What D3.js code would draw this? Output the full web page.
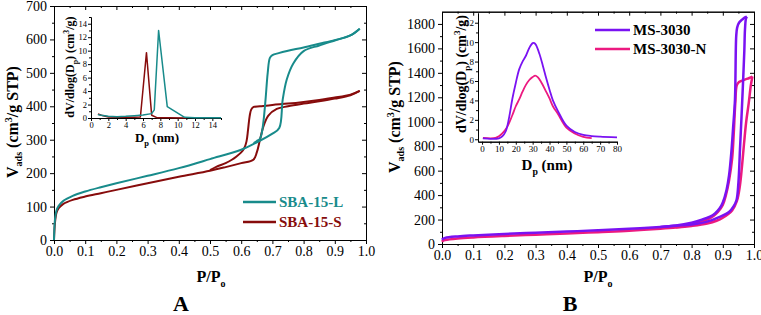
<!DOCTYPE html>
<html>
<head>
<meta charset="utf-8">
<script src="https://cdnjs.cloudflare.com/ajax/libs/d3/7.8.5/d3.min.js"></script>
<style>
  body { margin: 0; background: #fff; }
  svg { display: block; font-family: "Liberation Serif", "Times New Roman", serif; }
</style>
</head>
<body>
<script>
// ---------- data ----------
// Panel A: N2 isotherms, [P/Po, V]
const sbaL_ads = [[0,0],[0.003,60],[0.008,88],[0.015,102],[0.03,117],[0.06,132],[0.1,145],[0.15,158],[0.2,170],[0.3,192],[0.4,215],[0.5,242],[0.6,270],[0.65,292],[0.7,318],[0.722,335],[0.733,420],[0.746,480],[0.767,528],[0.8,565],[0.85,582],[0.9,597],[0.95,612],[0.98,632]];
const sbaL_des = [[0.98,632],[0.95,612],[0.9,598],[0.85,587],[0.8,576],[0.75,566],[0.72,559],[0.7,553],[0.692,545],[0.685,500],[0.678,420],[0.672,360],[0.666,320],[0.66,303],[0.65,296],[0.64,290]];
const sbaS_ads = [[0,0],[0.003,50],[0.008,82],[0.015,95],[0.03,108],[0.06,120],[0.1,130],[0.15,140],[0.2,150],[0.3,170],[0.4,189],[0.5,207],[0.55,218],[0.6,230],[0.639,240],[0.65,262],[0.66,299],[0.671,339],[0.687,372],[0.714,392],[0.75,400],[0.8,408],[0.85,415],[0.9,423],[0.95,433],[0.98,446]];
const sbaS_des = [[0.98,446],[0.95,435],[0.9,426],[0.85,419],[0.8,413],[0.75,408],[0.7,404],[0.66,400],[0.64,398],[0.632,390],[0.627,370],[0.622,330],[0.617,295],[0.61,275],[0.6,262],[0.585,250],[0.57,240],[0.55,230],[0.52,219],[0.5,209]];
// Panel A inset: pore size distribution, [Dp nm, dV/dlogDp]
const sbaL_psd = [[0.8,0.5],[1.2,0.4],[2,0.25],[3,0.2],[4,0.25],[5,0.35],[6,0.45],[7,0.65],[7.3,1.2],[7.8,13],[8.8,1.7],[10.8,0.1],[12,0.05],[15,0.05]];
const sbaS_psd = [[0.8,0.6],[1.2,0.4],[2,0.15],[3,0.1],[4,0.1],[5,0.1],[5.7,0.15],[6.4,9.7],[7,0.4],[7.6,0.05],[9,0.02],[11,0]];

// Panel B: N2 isotherms
const ms_ads = [[0,35],[0.003,42],[0.01,50],[0.05,62],[0.1,70],[0.2,82],[0.3,92],[0.4,102],[0.5,112],[0.6,124],[0.7,140],[0.75,150],[0.8,160],[0.85,183],[0.89,222],[0.92,262],[0.935,310],[0.944,360],[0.95,500],[0.955,770],[0.96,1040],[0.965,1330],[0.969,1580],[0.971,1750],[0.974,1840],[0.977,1860]];
const ms_des = [[0.977,1860],[0.97,1852],[0.962,1835],[0.952,1810],[0.946,1770],[0.943,1700],[0.939,1180],[0.933,950],[0.928,770],[0.92,560],[0.912,442],[0.9,340],[0.89,292],[0.875,250],[0.859,223],[0.83,196],[0.8,175],[0.75,152],[0.7,140]];
const msN_ads = [[0,18],[0.003,26],[0.01,32],[0.05,45],[0.1,54],[0.2,66],[0.3,76],[0.4,86],[0.5,97],[0.6,108],[0.7,124],[0.75,134],[0.8,148],[0.85,168],[0.88,190],[0.9,215],[0.93,275],[0.945,350],[0.955,480],[0.962,650],[0.968,820],[0.975,1000],[0.983,1150],[0.99,1300],[0.995,1370]];
const msN_des = [[0.995,1370],[0.985,1358],[0.97,1345],[0.96,1335],[0.952,1325],[0.945,1300],[0.94,1150],[0.935,900],[0.93,700],[0.92,520],[0.91,400],[0.9,320],[0.885,265],[0.87,230],[0.85,200],[0.8,160],[0.75,136]];
// Panel B inset
const ms_psd = [[0.5,0.1],[5,0.05],[10,0.1],[12,0.3],[14,0.8],[16,2.2],[18,4.2],[20,5.8],[22,7.2],[24,8.0],[26,8.6],[28,9.4],[30,9.9],[31,9.9],[32,9.7],[34,8.8],[36,7.6],[38,6.3],[40,5.1],[42,4.0],[45,2.9],[50,1.4],[55,0.75],[60,0.45],[65,0.33],[70,0.27],[80,0.2]];
const msN_psd = [[0.5,0.15],[5,0.1],[8,0.15],[10,0.3],[12,0.6],[15,1.3],[18,2.5],[20,3.4],[22,4.1],[24,4.9],[26,5.6],[28,6.1],[30,6.4],[31.5,6.55],[33,6.4],[35,5.9],[38,4.9],[40,4.2],[42,3.4],[45,2.6],[50,1.2],[55,0.6],[60,0.25],[65,0.12]];

// tick values
const pTicks = d3.range(0, 1.001, 0.1);
const pMinor = d3.range(0.05, 1, 0.1);
const vTicksA = d3.range(0, 701, 100);
const vTicksB = d3.range(0, 1801, 200);

const colors = { sbaL: "#188b8b", sbaS: "#870c0c", ms: "#7a12f2", msN: "#ec1a80" };

// ---------- svg ----------
const svg = d3.select("body").append("svg")
    .attr("width", 761)
    .attr("height", 315);

function styleAxis(g, size) {
    g.attr("font-family", "Liberation Serif").attr("font-size", size);
    g.selectAll("text").attr("fill", "#000");
    g.selectAll("line, path").attr("stroke", "#000");
}

// main frame with ticks: out on left/bottom, in on top/right
function drawFrame(x, y, yTicks, yMinor) {
    const [x0, x1] = x.range();
    const [y0, y1] = y.range();

    const bottom = svg.append("g").attr("transform", `translate(0,${y0})`)
        .call(d3.axisBottom(x).tickValues(pTicks).tickFormat(d3.format(".1f")).tickSize(4).tickPadding(2).tickSizeOuter(0));
    styleAxis(bottom, 14);
    svg.append("g").attr("transform", `translate(0,${y0})`)
        .call(d3.axisBottom(x).tickValues(pMinor).tickFormat("").tickSize(2).tickSizeOuter(0))
        .call(g => styleAxis(g, 14));

    const left = svg.append("g").attr("transform", `translate(${x0},0)`)
        .call(d3.axisLeft(y).tickValues(yTicks).tickFormat(d3.format("d")).tickSize(4).tickPadding(3).tickSizeOuter(0));
    styleAxis(left, 14);
    svg.append("g").attr("transform", `translate(${x0},0)`)
        .call(d3.axisLeft(y).tickValues(yMinor).tickFormat("").tickSize(2).tickSizeOuter(0))
        .call(g => styleAxis(g, 14));

    // mirrored top / right, ticks inward
    svg.append("g").attr("transform", `translate(0,${y1})`)
        .call(d3.axisBottom(x).tickValues(pTicks).tickFormat("").tickSize(4).tickSizeOuter(0))
        .call(g => styleAxis(g, 14));
    svg.append("g").attr("transform", `translate(0,${y1})`)
        .call(d3.axisBottom(x).tickValues(pMinor).tickFormat("").tickSize(2).tickSizeOuter(0))
        .call(g => styleAxis(g, 14));
    svg.append("g").attr("transform", `translate(${x1},0)`)
        .call(d3.axisLeft(y).tickValues(yTicks).tickFormat("").tickSize(4).tickSizeOuter(0))
        .call(g => styleAxis(g, 14));
    svg.append("g").attr("transform", `translate(${x1},0)`)
        .call(d3.axisLeft(y).tickValues(yMinor).tickFormat("").tickSize(2).tickSizeOuter(0))
        .call(g => styleAxis(g, 14));
}

function drawInsetAxes(x, y, xTicks, xMinor, yTicks, yMinor, fs) {
    const [x0] = x.range();
    const [y0] = y.range();
    const bx = svg.append("g").attr("transform", `translate(0,${y0})`)
        .call(d3.axisBottom(x).tickValues(xTicks).tickSize(3).tickPadding(1).tickSizeOuter(0));
    styleAxis(bx, fs);
    svg.append("g").attr("transform", `translate(0,${y0})`)
        .call(d3.axisBottom(x).tickValues(xMinor).tickFormat("").tickSize(2).tickSizeOuter(0))
        .call(g => styleAxis(g, fs));
    const ly = svg.append("g").attr("transform", `translate(${x0},0)`)
        .call(d3.axisLeft(y).tickValues(yTicks).tickSize(3).tickPadding(1).tickSizeOuter(0));
    styleAxis(ly, fs);
    svg.append("g").attr("transform", `translate(${x0},0)`)
        .call(d3.axisLeft(y).tickValues(yMinor).tickFormat("").tickSize(2).tickSizeOuter(0))
        .call(g => styleAxis(g, fs));
}

function drawCurve(data, x, y, color, width, curve) {
    const line = d3.line()
        .x(d => x(d[0]))
        .y(d => y(d[1]))
        .curve(curve || d3.curveCatmullRom.alpha(0.5));
    svg.append("path")
        .datum(data)
        .attr("d", line)
        .attr("fill", "none")
        .attr("stroke", color)
        .attr("stroke-width", width)
        .attr("stroke-linejoin", "round");
}

// y title like "V_ads (cm^3/g STP)" rotated
function vLabel(cx, cy) {
    const t = svg.append("text")
        .attr("transform", `translate(${cx},${cy}) rotate(-90)`)
        .attr("text-anchor", "middle")
        .attr("font-size", 16).attr("font-weight", "bold");
    t.append("tspan").text("V");
    t.append("tspan").attr("font-size", 10).attr("dy", 4).text("ads");
    t.append("tspan").attr("dy", -4).text(" (cm");
    t.append("tspan").attr("font-size", 10).attr("dy", -6).text("3");
    t.append("tspan").attr("dy", 6).text("/g STP)");
}

function pLabel(cx, cy) {
    const t = svg.append("text")
        .attr("x", cx).attr("y", cy)
        .attr("text-anchor", "middle")
        .attr("font-size", 16).attr("font-weight", "bold");
    t.append("tspan").text("P/P");
    t.append("tspan").attr("font-size", 10).attr("dy", 5).text("o");
}

function dpLabel(cx, cy, size) {
    const t = svg.append("text")
        .attr("x", cx).attr("y", cy)
        .attr("text-anchor", "middle")
        .attr("font-size", size).attr("font-weight", "bold");
    t.append("tspan").text("D");
    t.append("tspan").attr("font-size", size * 0.65).attr("dy", size * 0.3).text("p");
    t.append("tspan").attr("dy", -size * 0.3).text(" (nm)");
}

function psdLabel(cx, cy, size) {
    const t = svg.append("text")
        .attr("transform", `translate(${cx},${cy}) rotate(-90)`)
        .attr("text-anchor", "middle")
        .attr("font-size", size).attr("font-weight", "bold");
    t.append("tspan").text("dV/dlog(D");
    t.append("tspan").attr("font-size", size * 0.65).attr("dy", size * 0.3).text("p");
    t.append("tspan").attr("dy", -size * 0.3).text(") (cm");
    t.append("tspan").attr("font-size", size * 0.65).attr("dy", -size * 0.4).text("3");
    t.append("tspan").attr("dy", size * 0.4).text("/g)");
}

function legend(items, x0, y0, gap, len, textColorFromLine) {
    items.forEach((d, i) => {
        const yy = y0 + i * gap;
        svg.append("line")
            .attr("x1", x0).attr("x2", x0 + len)
            .attr("y1", yy).attr("y2", yy)
            .attr("stroke", d.color).attr("stroke-width", 2.5);
        svg.append("text")
            .attr("x", x0 + len + 3).attr("y", yy + 5)
            .attr("font-size", 15).attr("font-weight", "bold")
            .attr("fill", textColorFromLine ? d.color : "#000")
            .text(d.label);
    });
}

// ---------- panel A ----------
const xA = d3.scaleLinear().domain([0, 1]).range([54, 366]);
const yA = d3.scaleLinear().domain([0, 700]).range([240, 6]);
drawFrame(xA, yA, vTicksA, d3.range(50, 700, 100));

drawCurve(sbaS_ads, xA, yA, colors.sbaS, 2);
drawCurve(sbaS_des, xA, yA, colors.sbaS, 2);
drawCurve(sbaL_ads, xA, yA, colors.sbaL, 2);
drawCurve(sbaL_des, xA, yA, colors.sbaL, 2);

vLabel(18, 122);
pLabel(211, 282);
svg.append("text").attr("x", 181).attr("y", 311).attr("text-anchor", "middle")
    .attr("font-size", 22).attr("font-weight", "bold").text("A");

legend([
    { label: "SBA-15-L", color: colors.sbaL },
    { label: "SBA-15-S", color: colors.sbaS }
], 243, 202, 20, 33, true);

// inset A
const xIA = d3.scaleLinear().domain([0, 15]).range([91, 221]);
const yIA = d3.scaleLinear().domain([0, 15]).range([118, 17]);
drawInsetAxes(xIA, yIA, d3.range(0, 15, 2), d3.range(1, 15.1, 2), d3.range(0, 15, 2), d3.range(1, 15.1, 2), 8.5);
drawCurve(sbaS_psd, xIA, yIA, colors.sbaS, 1.5, d3.curveLinear);
drawCurve(sbaL_psd, xIA, yIA, colors.sbaL, 1.5, d3.curveLinear);
psdLabel(74, 67, 12);
dpLabel(157, 142, 13);

// ---------- panel B ----------
const xB = d3.scaleLinear().domain([0, 1]).range([442, 754]);
const yB = d3.scaleLinear().domain([0, 1900]).range([244, 11.7]);
drawFrame(xB, yB, vTicksB, d3.range(100, 1900, 200));

drawCurve(msN_ads, xB, yB, colors.msN, 2.5);
drawCurve(msN_des, xB, yB, colors.msN, 2.5);
drawCurve(ms_ads, xB, yB, colors.ms, 2.5);
drawCurve(ms_des, xB, yB, colors.ms, 2.5);

vLabel(400, 117);
pLabel(598, 282);
svg.append("text").attr("x", 570).attr("y", 311).attr("text-anchor", "middle")
    .attr("font-size", 22).attr("font-weight", "bold").text("B");

legend([
    { label: "MS-3030", color: colors.ms },
    { label: "MS-3030-N", color: colors.msN }
], 595, 30, 19, 35, false);

// inset B
const xIB = d3.scaleLinear().domain([-2.4, 80]).range([478, 617]);
const yIB = d3.scaleLinear().domain([-0.25, 13]).range([141.7, 13]);
drawInsetAxes(xIB, yIB, d3.range(0, 81, 10), d3.range(5, 80, 10), d3.range(0, 13, 2), d3.range(1, 13, 2), 9);
drawCurve(msN_psd, xIB, yIB, colors.msN, 1.8);
drawCurve(ms_psd, xIB, yIB, colors.ms, 1.8);
psdLabel(466, 74, 14);
dpLabel(547, 170, 15);
</script>
</body>
</html>
